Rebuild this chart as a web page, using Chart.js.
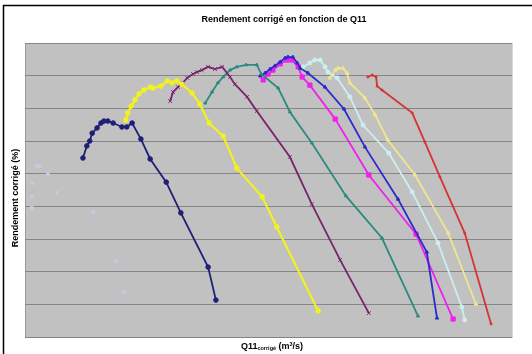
<!DOCTYPE html>
<html>
<head>
<meta charset="utf-8">
<script src="https://cdn.jsdelivr.net/npm/chart.js@4"></script>
<style>
  html, body { margin: 0; padding: 0; background: #fff; }
  #wrap { width: 532px; height: 354px; position: relative; }
</style>
</head>
<body>
<div id="wrap"><canvas id="chart" width="532" height="354"></canvas></div>
<script>
// Q11 corrigé (m3/s) and rendement corrigé (%), one pair per curve
const ghostQ = [0.014, 0.014, 0.016, 0.025, 0.031, 0.047, 0.066, 0.140, 0.187, 0.203];
const ghostR = [39.5, 42.9, 47.1, 52.3, 52.3, 49.9, 44.1, 38.3, 23.3, 13.8];

const navyQ = [0.119, 0.127, 0.133, 0.138, 0.148, 0.156, 0.162, 0.170, 0.181, 0.199, 0.209, 0.220, 0.238, 0.257, 0.290, 0.320, 0.376, 0.392];
const navyR = [54.8, 58.5, 60.0, 62.4, 64.0, 65.5, 66.1, 66.1, 65.5, 64.3, 64.3, 65.5, 60.6, 54.5, 47.4, 38.0, 21.4, 11.3];

const yellowQ = [0.207, 0.211, 0.218, 0.226, 0.234, 0.244, 0.257, 0.263, 0.279, 0.292, 0.302, 0.312, 0.322, 0.343, 0.359, 0.378, 0.407, 0.435, 0.487, 0.517, 0.602];
const yellowR = [66.4, 68.6, 70.7, 72.6, 74.4, 75.6, 76.5, 76.2, 76.8, 78.4, 77.8, 78.4, 77.4, 74.7, 71.3, 65.5, 61.5, 51.7, 42.9, 33.7, 8.0];

const purpleQ = [0.298, 0.304, 0.314, 0.324, 0.333, 0.345, 0.353, 0.363, 0.376, 0.390, 0.405, 0.421, 0.431, 0.456, 0.476, 0.544, 0.589, 0.647, 0.706];
const purpleR = [72.2, 75.0, 76.5, 77.8, 79.3, 80.5, 81.1, 81.7, 82.7, 82.0, 82.7, 79.6, 77.4, 73.5, 69.2, 55.1, 40.7, 23.6, 7.3];

const tealQ = [0.370, 0.384, 0.396, 0.407, 0.421, 0.435, 0.454, 0.476, 0.485, 0.520, 0.544, 0.589, 0.659, 0.733, 0.807];
const tealR = [71.6, 75.0, 77.8, 79.6, 81.7, 82.7, 83.3, 83.3, 80.5, 76.2, 68.9, 59.4, 43.2, 30.3, 6.4];

const blueQ = [0.483, 0.493, 0.503, 0.513, 0.524, 0.534, 0.540, 0.550, 0.559, 0.565, 0.581, 0.616, 0.655, 0.698, 0.766, 0.825, 0.846];
const blueR = [79.9, 80.8, 82.0, 83.0, 84.2, 85.4, 85.7, 85.7, 83.9, 82.3, 80.8, 76.5, 69.8, 58.2, 42.2, 26.0, 5.8];

const magentaQ = [0.489, 0.499, 0.509, 0.524, 0.538, 0.548, 0.561, 0.569, 0.585, 0.637, 0.706, 0.803, 0.879];
const magentaR = [78.7, 80.5, 81.7, 83.6, 84.8, 84.8, 82.7, 79.6, 77.1, 66.7, 49.6, 31.5, 5.5];

const cyanQ = [0.571, 0.585, 0.595, 0.606, 0.616, 0.622, 0.641, 0.667, 0.694, 0.747, 0.795, 0.848, 0.897, 0.903];
const cyanR = [82.7, 83.9, 84.8, 84.8, 82.7, 81.1, 79.3, 73.5, 64.9, 56.3, 44.4, 28.8, 9.2, 5.2];

const paleQ = [0.626, 0.637, 0.643, 0.653, 0.661, 0.667, 0.698, 0.719, 0.745, 0.801, 0.869, 0.926];
const paleR = [79.3, 81.7, 82.3, 82.3, 80.8, 77.8, 73.2, 68.0, 60.3, 49.6, 31.8, 10.1];

const redQ = [0.704, 0.713, 0.721, 0.723, 0.733, 0.795, 0.821, 0.852, 0.903, 0.957];
const redR = [79.6, 80.2, 79.6, 76.8, 75.6, 68.6, 59.7, 49.0, 31.8, 4.0];

const yTicks = [0, 10, 20, 30, 40, 50, 60, 70, 80, 90];

function pts(xs, ys) {
  return xs.map((x, i) => ({ x, y: ys[i] }));
}

function curve(xs, ys, color, style, radius, width) {
  return {
    data: pts(xs, ys),
    borderColor: color,
    backgroundColor: color,
    borderWidth: width,
    pointStyle: style,
    pointRadius: radius,
    pointBorderWidth: 1,
    pointHoverRadius: radius,
    showLine: true,
    tension: 0
  };
}

const ghost = curve(ghostQ, ghostR, "#cdc5e4", "rect", 2, 0);
ghost.showLine = false;

const datasets = [
  ghost,
  curve(navyQ, navyR, "#1f1f78", "circle", 2.3, 1.8),
  curve(yellowQ, yellowR, "#f2f21e", "circle", 2.3, 2.2),
  curve(purpleQ, purpleR, "#7a226e", "crossRot", 2.5, 1.8),
  curve(tealQ, tealR, "#2c8a80", "triangle", 1.8, 1.8),
  curve(blueQ, blueR, "#2b2bcc", "triangle", 2, 1.8),
  curve(magentaQ, magentaR, "#f020ee", "rect", 3, 1.8),
  curve(cyanQ, cyanR, "#cbeff0", "circle", 2, 1.8),
  curve(paleQ, paleR, "#efe78e", "triangle", 2.2, 1.8),
  curve(redQ, redR, "#d83232", "circle", 1, 1.8)
];

const frame = {
  id: "frame",
  beforeDraw(c) {
    const ctx = c.ctx;
    const a = c.chartArea;
    ctx.save();
    ctx.fillStyle = "#fff";
    ctx.fillRect(0, 0, c.width, c.height);
    // outer black frame (left and top only, rest cropped)
    ctx.strokeStyle = "#000";
    ctx.lineWidth = 1.5;
    ctx.beginPath();
    ctx.moveTo(3.5, 354);
    ctx.lineTo(3.5, 5.5);
    ctx.lineTo(532, 5.5);
    ctx.stroke();
    // plot area
    ctx.fillStyle = "#c1c1c1";
    ctx.fillRect(a.left, a.top, a.right - a.left, a.bottom - a.top);
    ctx.lineWidth = 1;
    ctx.strokeStyle = "#d6d6d6";
    ctx.beginPath();
    ctx.moveTo(a.right + 0.5, a.top);
    ctx.lineTo(a.right + 0.5, a.bottom + 0.5);
    ctx.lineTo(a.left, a.bottom + 0.5);
    ctx.stroke();
    ctx.strokeStyle = "#9a9a9a";
    ctx.beginPath();
    ctx.moveTo(a.left + 0.5, a.bottom);
    ctx.lineTo(a.left + 0.5, a.top + 0.5);
    ctx.lineTo(a.right, a.top + 0.5);
    ctx.stroke();
    ctx.restore();
  },
  afterDraw(c) {
    const ctx = c.ctx;
    const a = c.chartArea;
    ctx.save();
    ctx.fillStyle = "#000";
    ctx.textBaseline = "middle";
    ctx.textAlign = "center";
    ctx.font = "bold 9px 'Liberation Sans', Arial, sans-serif";
    ctx.fillText("Rendement corrigé en fonction de Q11", 284, 20);

    // y title
    ctx.save();
    ctx.translate(16, (a.top + a.bottom) / 2 + 8);
    ctx.rotate(-Math.PI / 2);
    ctx.fillText("Rendement corrigé (%)", 0, 0);
    ctx.restore();

    // x title with subscript
    const big = "bold 9px 'Liberation Sans', Arial, sans-serif";
    const small = "bold 5.5px 'Liberation Sans', Arial, sans-serif";
    const parts = [["Q11", big, 0], ["corrigé", small, 1.5], [" (m", big, 0], ["3", small, -2.5], ["/s)", big, 0]];
    let total = 0;
    parts.forEach(p => { ctx.font = p[1]; total += ctx.measureText(p[0]).width; });
    let x = 272 - total / 2;
    ctx.textAlign = "left";
    parts.forEach(p => {
      ctx.font = p[1];
      ctx.fillText(p[0], x, 347 + p[2]);
      x += ctx.measureText(p[0]).width;
    });
    ctx.restore();
  }
};

new Chart(document.getElementById("chart"), {
  type: "scatter",
  data: { datasets },
  options: {
    responsive: false,
    animation: false,
    layout: { padding: { left: 25, top: 43, right: 20, bottom: 17 } },
    plugins: {
      legend: { display: false },
      tooltip: { enabled: false },
      title: { display: false }
    },
    scales: {
      x: {
        type: "linear",
        min: 0,
        max: 1,
        display: true,
        grid: { display: false, drawTicks: false },
        border: { display: false },
        ticks: { display: false }
      },
      y: {
        min: yTicks[0],
        max: yTicks[yTicks.length - 1],
        afterBuildTicks: s => { s.ticks = yTicks.map(v => ({ value: v })); },
        grid: { color: "#858585", lineWidth: 1, drawTicks: false },
        border: { display: false },
        ticks: { display: false }
      }
    }
  },
  plugins: [frame]
});
</script>
</body>
</html>
